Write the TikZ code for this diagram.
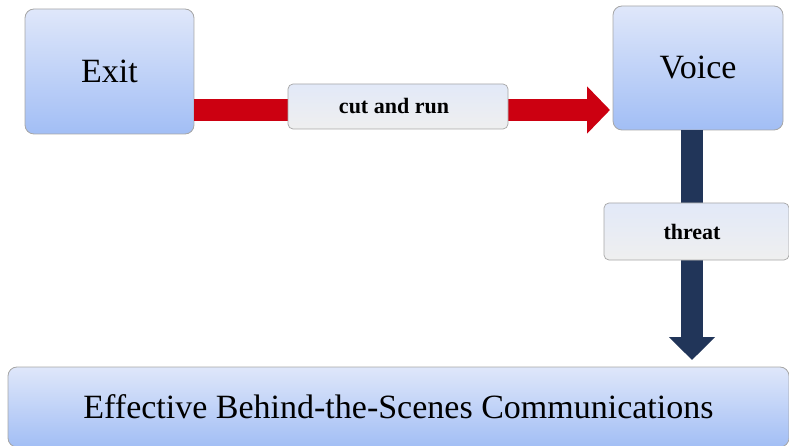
\documentclass[tikz,border=0pt]{standalone}
\usepackage{fontspec}
\setmainfont{Liberation Serif}
\usetikzlibrary{arrows.meta}
\definecolor{boxtop}{HTML}{DFE7FA}
\definecolor{boxbot}{HTML}{A2BEF5}
\definecolor{labtop}{HTML}{E2E9F8}
\definecolor{labbot}{HTML}{EFEFEF}
\definecolor{edgegray}{HTML}{A6A6A6}
\definecolor{arrred}{HTML}{CC0011}
\definecolor{arrnavy}{HTML}{213559}
\tikzset{
  bigbox/.style={draw=edgegray, line width=0.8pt, rounded corners=9pt, top color=boxtop, bottom color=boxbot, inner sep=0pt, font=\fontsize{34}{38}\selectfont},
  labbox/.style={draw=edgegray, line width=0.7pt, rounded corners=5pt, top color=labtop, bottom color=labbot, inner sep=0pt, font=\fontsize{22}{24}\selectfont\bfseries},
  redarrow/.style={draw=arrred, line width=22pt, -{Triangle[width=46pt,length=23pt]}},
  navyarrow/.style={draw=arrnavy, line width=22pt, -{Triangle[width=45pt,length=23pt]}},
}
\begin{document}
\begin{tikzpicture}[x=1pt,y=-1pt]
\useasboundingbox (0,0) rectangle (789,446);
\node[bigbox, minimum width=169pt, minimum height=125pt] (exit) at (109.5,71.5) {Exit};
\node[bigbox, minimum width=170pt, minimum height=124pt] (voice) at (698,68) {Voice};
\node[bigbox, minimum width=781pt, minimum height=80pt] (eff) at (398.5,407) {\raisebox{-4pt}{Effective Behind-the-Scenes Communications}};
\coordinate (rs) at (194,110);
\coordinate (re) at (610,110);
\draw[redarrow] (exit.east |- rs) -- (re);
\coordinate (ns) at (692,130);
\coordinate (ne) at (692,360);
\draw[navyarrow] (voice.south -| ns) -- (ne);
\node[labbox, minimum width=220pt, minimum height=45pt] (cut) at (398,106.5) {\hspace*{-8pt}cut and run};
\node[labbox, minimum width=185pt, minimum height=57pt] (threat) at (696.5,231.5) {\hspace*{-9pt}threat};
\end{tikzpicture}
\end{document}
